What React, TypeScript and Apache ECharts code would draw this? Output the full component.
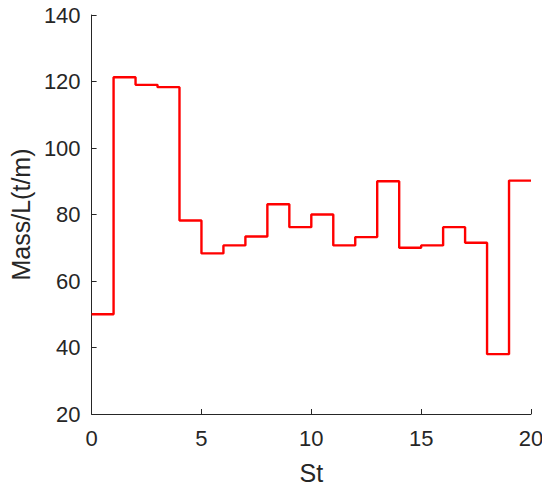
import React, { useEffect, useRef } from "react";
import * as echarts from "echarts";

const stations = [0, 1, 2, 3, 4, 5, 6, 7, 8, 9, 10, 11, 12, 13, 14, 15, 16, 17, 18, 19, 20];
const massPerLength = [50, 121.3, 119.0, 118.3, 78.2, 68.3, 70.7, 73.4, 83.1, 76.2, 80.0, 70.7, 73.2, 90.0, 70.0, 70.7, 76.2, 71.5, 38.0, 90.2, 90.2];
const xTicks = [0, 5, 10, 15, 20];
const yTicks = [20, 40, 60, 80, 100, 120, 140];

export default function App() {
  const ref = useRef<HTMLDivElement>(null);
  useEffect(() => {
    if (!ref.current) return;
    const chart = echarts.init(ref.current, undefined, { renderer: "svg" });
    const textColor = "#262626";
    const font = "Liberation Sans, Arial, sans-serif";
    chart.setOption({
      animation: false,
      backgroundColor: "#ffffff",
      grid: { left: 91, right: 19, top: 15, bottom: 73, containLabel: false },
      xAxis: {
        type: "value",
        min: xTicks[0],
        max: xTicks[xTicks.length - 1],
        interval: 5,
        name: "St",
        nameLocation: "middle",
        nameGap: 46,
        nameTextStyle: { color: textColor, fontSize: 25, fontFamily: font },
        axisLine: { lineStyle: { color: textColor, width: 1 } },
        axisTick: { inside: true, length: 5, lineStyle: { color: textColor } },
        axisLabel: { color: textColor, fontSize: 22, fontFamily: font, margin: 13 },
        splitLine: { show: false },
      },
      yAxis: {
        type: "value",
        min: yTicks[0],
        max: yTicks[yTicks.length - 1],
        interval: 20,
        name: "Mass/L(t/m)",
        nameLocation: "middle",
        nameGap: 56,
        nameTextStyle: { color: textColor, fontSize: 25, fontFamily: font },
        axisLine: { show: true, lineStyle: { color: textColor, width: 1 } },
        axisTick: { show: true, inside: true, length: 5, lineStyle: { color: textColor } },
        axisLabel: { color: textColor, fontSize: 22, fontFamily: font, margin: 11 },
        splitLine: { show: false },
      },
      series: [
        {
          type: "line",
          step: "end",
          data: stations.map((s, i) => [s, massPerLength[i]]),
          showSymbol: false,
          lineStyle: { color: "#ff0000", width: 2.4 },
          itemStyle: { color: "#ff0000" },
        },
      ],
    });
    return () => chart.dispose();
  }, []);
  return <div ref={ref} style={{ width: 550, height: 490, margin: -8 }} />;
}
